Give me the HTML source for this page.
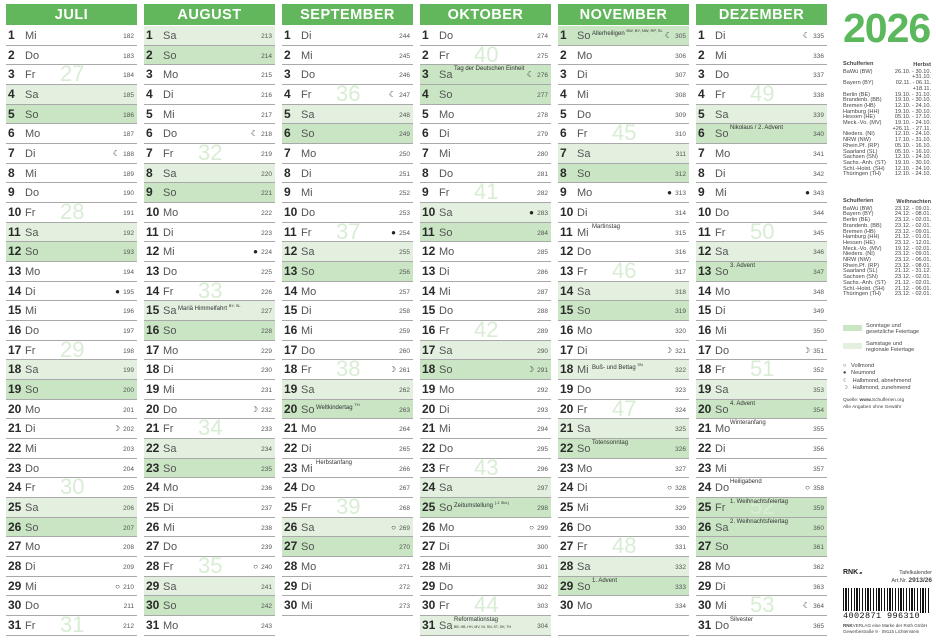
<!DOCTYPE html>
<html><head><meta charset="utf-8"><style>
*{box-sizing:border-box}
body{margin:0;width:936px;height:640px;background:#fff;position:relative;overflow:hidden;font-family:"Liberation Sans",sans-serif;color:#333}
.col{position:absolute;top:4px;width:131px}
.h{height:21px;background:#62b65c;color:#fff;font-weight:bold;font-size:14.5px;text-align:center;line-height:22px;letter-spacing:.5px;margin-bottom:1px}
p{margin:0;height:19.68px;border-bottom:1px solid #a9a9a9;position:relative;font-size:11px;line-height:19px;padding-left:2px;color:#555}
p b{font-size:12px;color:#2a2a2a;display:inline-block;width:17px}
p.a{background:#e3f0df}
p.c{background:#c9e5c3}
u{position:absolute;right:3px;top:7px;font-size:6.5px;color:#555;text-decoration:none;line-height:8px}
em{position:absolute;right:17px;top:5px;font-size:8px;font-style:normal;color:#222;line-height:9px}
s{position:absolute;left:34px;top:1px;font-size:6px;text-decoration:none;color:#333;line-height:7px}
i{position:absolute;left:54px;top:-2px;font-size:22px;font-style:normal;color:#d9edd5;line-height:22px}
.r{position:absolute;font-size:5.6px;line-height:5.7px;color:#444}
.r td{padding:0;white-space:nowrap}
</style></head><body>

<div class="col" style="left:6px"><div class="h">JULI</div>
<p><b>1</b>Mi<u>182</u></p>
<p><b>2</b>Do<u>183</u></p>
<p><b>3</b>Fr<i>27</i><u>184</u></p>
<p class="a"><b>4</b>Sa<u>185</u></p>
<p class="c"><b>5</b>So<u>186</u></p>
<p><b>6</b>Mo<u>187</u></p>
<p><b>7</b>Di<em>☾</em><u>188</u></p>
<p><b>8</b>Mi<u>189</u></p>
<p><b>9</b>Do<u>190</u></p>
<p><b>10</b>Fr<i>28</i><u>191</u></p>
<p class="a"><b>11</b>Sa<u>192</u></p>
<p class="c"><b>12</b>So<u>193</u></p>
<p><b>13</b>Mo<u>194</u></p>
<p><b>14</b>Di<em>●</em><u>195</u></p>
<p><b>15</b>Mi<u>196</u></p>
<p><b>16</b>Do<u>197</u></p>
<p><b>17</b>Fr<i>29</i><u>198</u></p>
<p class="a"><b>18</b>Sa<u>199</u></p>
<p class="c"><b>19</b>So<u>200</u></p>
<p><b>20</b>Mo<u>201</u></p>
<p><b>21</b>Di<em>☽</em><u>202</u></p>
<p><b>22</b>Mi<u>203</u></p>
<p><b>23</b>Do<u>204</u></p>
<p><b>24</b>Fr<i>30</i><u>205</u></p>
<p class="a"><b>25</b>Sa<u>206</u></p>
<p class="c"><b>26</b>So<u>207</u></p>
<p><b>27</b>Mo<u>208</u></p>
<p><b>28</b>Di<u>209</u></p>
<p><b>29</b>Mi<em>○</em><u>210</u></p>
<p><b>30</b>Do<u>211</u></p>
<p><b>31</b>Fr<i>31</i><u>212</u></p>
</div>

<div class="col" style="left:144px"><div class="h">AUGUST</div>
<p class="a"><b>1</b>Sa<u>213</u></p>
<p class="c"><b>2</b>So<u>214</u></p>
<p><b>3</b>Mo<u>215</u></p>
<p><b>4</b>Di<u>216</u></p>
<p><b>5</b>Mi<u>217</u></p>
<p><b>6</b>Do<em>☾</em><u>218</u></p>
<p><b>7</b>Fr<i>32</i><u>219</u></p>
<p class="a"><b>8</b>Sa<u>220</u></p>
<p class="c"><b>9</b>So<u>221</u></p>
<p><b>10</b>Mo<u>222</u></p>
<p><b>11</b>Di<u>223</u></p>
<p><b>12</b>Mi<em>●</em><u>224</u></p>
<p><b>13</b>Do<u>225</u></p>
<p><b>14</b>Fr<i>33</i><u>226</u></p>
<p class="a"><b>15</b>Sa<s>Mariä Himmelfahrt <sup style="font-size:4px">BY, SL</sup></s><u>227</u></p>
<p class="c"><b>16</b>So<u>228</u></p>
<p><b>17</b>Mo<u>229</u></p>
<p><b>18</b>Di<u>230</u></p>
<p><b>19</b>Mi<u>231</u></p>
<p><b>20</b>Do<em>☽</em><u>232</u></p>
<p><b>21</b>Fr<i>34</i><u>233</u></p>
<p class="a"><b>22</b>Sa<u>234</u></p>
<p class="c"><b>23</b>So<u>235</u></p>
<p><b>24</b>Mo<u>236</u></p>
<p><b>25</b>Di<u>237</u></p>
<p><b>26</b>Mi<u>238</u></p>
<p><b>27</b>Do<u>239</u></p>
<p><b>28</b>Fr<i>35</i><em>○</em><u>240</u></p>
<p class="a"><b>29</b>Sa<u>241</u></p>
<p class="c"><b>30</b>So<u>242</u></p>
<p><b>31</b>Mo<u>243</u></p>
</div>

<div class="col" style="left:282px"><div class="h">SEPTEMBER</div>
<p><b>1</b>Di<u>244</u></p>
<p><b>2</b>Mi<u>245</u></p>
<p><b>3</b>Do<u>246</u></p>
<p><b>4</b>Fr<i>36</i><em>☾</em><u>247</u></p>
<p class="a"><b>5</b>Sa<u>248</u></p>
<p class="c"><b>6</b>So<u>249</u></p>
<p><b>7</b>Mo<u>250</u></p>
<p><b>8</b>Di<u>251</u></p>
<p><b>9</b>Mi<u>252</u></p>
<p><b>10</b>Do<u>253</u></p>
<p><b>11</b>Fr<i>37</i><em>●</em><u>254</u></p>
<p class="a"><b>12</b>Sa<u>255</u></p>
<p class="c"><b>13</b>So<u>256</u></p>
<p><b>14</b>Mo<u>257</u></p>
<p><b>15</b>Di<u>258</u></p>
<p><b>16</b>Mi<u>259</u></p>
<p><b>17</b>Do<u>260</u></p>
<p><b>18</b>Fr<i>38</i><em>☽</em><u>261</u></p>
<p class="a"><b>19</b>Sa<u>262</u></p>
<p class="c"><b>20</b>So<s>Weltkindertag <sup style="font-size:4px">TH</sup></s><u>263</u></p>
<p><b>21</b>Mo<u>264</u></p>
<p><b>22</b>Di<u>265</u></p>
<p><b>23</b>Mi<s>Herbstanfang</s><u>266</u></p>
<p><b>24</b>Do<u>267</u></p>
<p><b>25</b>Fr<i>39</i><u>268</u></p>
<p class="a"><b>26</b>Sa<em>○</em><u>269</u></p>
<p class="c"><b>27</b>So<u>270</u></p>
<p><b>28</b>Mo<u>271</u></p>
<p><b>29</b>Di<u>272</u></p>
<p><b>30</b>Mi<u>273</u></p>
</div>

<div class="col" style="left:420px"><div class="h">OKTOBER</div>
<p><b>1</b>Do<u>274</u></p>
<p><b>2</b>Fr<i>40</i><u>275</u></p>
<p class="c"><b>3</b>Sa<s>Tag der Deutschen Einheit</s><em>☾</em><u>276</u></p>
<p class="c"><b>4</b>So<u>277</u></p>
<p><b>5</b>Mo<u>278</u></p>
<p><b>6</b>Di<u>279</u></p>
<p><b>7</b>Mi<u>280</u></p>
<p><b>8</b>Do<u>281</u></p>
<p><b>9</b>Fr<i>41</i><u>282</u></p>
<p class="a"><b>10</b>Sa<em>●</em><u>283</u></p>
<p class="c"><b>11</b>So<u>284</u></p>
<p><b>12</b>Mo<u>285</u></p>
<p><b>13</b>Di<u>286</u></p>
<p><b>14</b>Mi<u>287</u></p>
<p><b>15</b>Do<u>288</u></p>
<p><b>16</b>Fr<i>42</i><u>289</u></p>
<p class="a"><b>17</b>Sa<u>290</u></p>
<p class="c"><b>18</b>So<em>☽</em><u>291</u></p>
<p><b>19</b>Mo<u>292</u></p>
<p><b>20</b>Di<u>293</u></p>
<p><b>21</b>Mi<u>294</u></p>
<p><b>22</b>Do<u>295</u></p>
<p><b>23</b>Fr<i>43</i><u>296</u></p>
<p class="a"><b>24</b>Sa<u>297</u></p>
<p class="c"><b>25</b>So<s>Zeitumstellung <sup style="font-size:4px">(-1 Std.)</sup></s><u>298</u></p>
<p><b>26</b>Mo<em>○</em><u>299</u></p>
<p><b>27</b>Di<u>300</u></p>
<p><b>28</b>Mi<u>301</u></p>
<p><b>29</b>Do<u>302</u></p>
<p><b>30</b>Fr<i>44</i><u>303</u></p>
<p class="a"><b>31</b>Sa<s>Reformationstag<br><span style="font-size:3.5px">BB, HB, HH, MV, NI, SN, ST, SH, TH</span></s><u>304</u></p>
</div>

<div class="col" style="left:558px"><div class="h">NOVEMBER</div>
<p class="c"><b>1</b>So<s>Allerheiligen <sup style="font-size:4px">BW, BY, NW, RP, SL</sup></s><em>☾</em><u>305</u></p>
<p><b>2</b>Mo<u>306</u></p>
<p><b>3</b>Di<u>307</u></p>
<p><b>4</b>Mi<u>308</u></p>
<p><b>5</b>Do<u>309</u></p>
<p><b>6</b>Fr<i>45</i><u>310</u></p>
<p class="a"><b>7</b>Sa<u>311</u></p>
<p class="c"><b>8</b>So<u>312</u></p>
<p><b>9</b>Mo<em>●</em><u>313</u></p>
<p><b>10</b>Di<u>314</u></p>
<p><b>11</b>Mi<s>Martinstag</s><u>315</u></p>
<p><b>12</b>Do<u>316</u></p>
<p><b>13</b>Fr<i>46</i><u>317</u></p>
<p class="a"><b>14</b>Sa<u>318</u></p>
<p class="c"><b>15</b>So<u>319</u></p>
<p><b>16</b>Mo<u>320</u></p>
<p><b>17</b>Di<em>☽</em><u>321</u></p>
<p class="a"><b>18</b>Mi<s>Buß- und Bettag <sup style="font-size:4px">SN</sup></s><u>322</u></p>
<p><b>19</b>Do<u>323</u></p>
<p><b>20</b>Fr<i>47</i><u>324</u></p>
<p class="a"><b>21</b>Sa<u>325</u></p>
<p class="c"><b>22</b>So<s>Totensonntag</s><u>326</u></p>
<p><b>23</b>Mo<u>327</u></p>
<p><b>24</b>Di<em>○</em><u>328</u></p>
<p><b>25</b>Mi<u>329</u></p>
<p><b>26</b>Do<u>330</u></p>
<p><b>27</b>Fr<i>48</i><u>331</u></p>
<p class="a"><b>28</b>Sa<u>332</u></p>
<p class="c"><b>29</b>So<s>1. Advent</s><u>333</u></p>
<p><b>30</b>Mo<u>334</u></p>
<p></p>
</div>

<div class="col" style="left:696px"><div class="h">DEZEMBER</div>
<p><b>1</b>Di<em>☾</em><u>335</u></p>
<p><b>2</b>Mi<u>336</u></p>
<p><b>3</b>Do<u>337</u></p>
<p><b>4</b>Fr<i>49</i><u>338</u></p>
<p class="a"><b>5</b>Sa<u>339</u></p>
<p class="c"><b>6</b>So<s>Nikolaus / 2. Advent</s><u>340</u></p>
<p><b>7</b>Mo<u>341</u></p>
<p><b>8</b>Di<u>342</u></p>
<p><b>9</b>Mi<em>●</em><u>343</u></p>
<p><b>10</b>Do<u>344</u></p>
<p><b>11</b>Fr<i>50</i><u>345</u></p>
<p class="a"><b>12</b>Sa<u>346</u></p>
<p class="c"><b>13</b>So<s>3. Advent</s><u>347</u></p>
<p><b>14</b>Mo<u>348</u></p>
<p><b>15</b>Di<u>349</u></p>
<p><b>16</b>Mi<u>350</u></p>
<p><b>17</b>Do<em>☽</em><u>351</u></p>
<p><b>18</b>Fr<i>51</i><u>352</u></p>
<p class="a"><b>19</b>Sa<u>353</u></p>
<p class="c"><b>20</b>So<s>4. Advent</s><u>354</u></p>
<p><b>21</b>Mo<s>Winteranfang</s><u>355</u></p>
<p><b>22</b>Di<u>356</u></p>
<p><b>23</b>Mi<u>357</u></p>
<p><b>24</b>Do<s>Heiligabend</s><em>○</em><u>358</u></p>
<p class="c"><b>25</b>Fr<i>52</i><s>1. Weihnachtsfeiertag</s><u>359</u></p>
<p class="c"><b>26</b>Sa<s>2. Weihnachtsfeiertag</s><u>360</u></p>
<p class="c"><b>27</b>So<u>361</u></p>
<p><b>28</b>Mo<u>362</u></p>
<p><b>29</b>Di<u>363</u></p>
<p><b>30</b>Mi<i>53</i><em>☾</em><u>364</u></p>
<p><b>31</b>Do<s>Silvester</s><u>365</u></p>
</div>

<div style="position:absolute;left:843px;top:5px;font-size:41px;font-weight:bold;color:#5cb85c;letter-spacing:-1px;line-height:46px">2026</div>

<table class="r" style="left:843px;top:62px;width:88px;border-collapse:collapse">
<tr><td style="font-weight:bold;padding-bottom:2px">Schulferien</td><td style="text-align:right;font-weight:bold">Herbst</td></tr>
<tr><td>BaWü (BW)</td><td style="text-align:right">26.10. - 30.10.</td></tr>
<tr><td></td><td style="text-align:right">+31.10.</td></tr>
<tr><td>Bayern (BY)</td><td style="text-align:right">02.11. - 06.11.</td></tr>
<tr><td></td><td style="text-align:right">+18.11.</td></tr>
<tr><td>Berlin (BE)</td><td style="text-align:right">19.10. - 31.10.</td></tr>
<tr><td>Brandenb. (BB)</td><td style="text-align:right">19.10. - 30.10.</td></tr>
<tr><td>Bremen (HB)</td><td style="text-align:right">12.10. - 24.10.</td></tr>
<tr><td>Hamburg (HH)</td><td style="text-align:right">19.10. - 30.10.</td></tr>
<tr><td>Hessen (HE)</td><td style="text-align:right">05.10. - 17.10.</td></tr>
<tr><td>Meck.-Vo. (MV)</td><td style="text-align:right">19.10. - 24.10.</td></tr>
<tr><td></td><td style="text-align:right">+26.11. - 27.11.</td></tr>
<tr><td>Nieders. (NI)</td><td style="text-align:right">12.10. - 24.10.</td></tr>
<tr><td>NRW (NW)</td><td style="text-align:right">17.10. - 31.10.</td></tr>
<tr><td>Rhein.Pf. (RP)</td><td style="text-align:right">05.10. - 16.10.</td></tr>
<tr><td>Saarland (SL)</td><td style="text-align:right">05.10. - 16.10.</td></tr>
<tr><td>Sachsen (SN)</td><td style="text-align:right">12.10. - 24.10.</td></tr>
<tr><td>Sachs.-Anh. (ST)</td><td style="text-align:right">19.10. - 30.10.</td></tr>
<tr><td>Schl.-Holst. (SH)</td><td style="text-align:right">12.10. - 24.10.</td></tr>
<tr><td>Thüringen (TH)</td><td style="text-align:right">12.10. - 24.10.</td></tr>
</table>

<table class="r" style="left:843px;top:199px;width:88px;border-collapse:collapse">
<tr><td style="font-weight:bold;padding-bottom:2px">Schulferien</td><td style="text-align:right;font-weight:bold">Weihnachten</td></tr>
<tr><td>BaWü (BW)</td><td style="text-align:right">23.12. - 09.01.</td></tr>
<tr><td>Bayern (BY)</td><td style="text-align:right">24.12. - 08.01.</td></tr>
<tr><td>Berlin (BE)</td><td style="text-align:right">23.12. - 02.01.</td></tr>
<tr><td>Brandenb. (BB)</td><td style="text-align:right">23.12. - 02.01.</td></tr>
<tr><td>Bremen (HB)</td><td style="text-align:right">23.12. - 09.01.</td></tr>
<tr><td>Hamburg (HH)</td><td style="text-align:right">21.12. - 01.01.</td></tr>
<tr><td>Hessen (HE)</td><td style="text-align:right">23.12. - 12.01.</td></tr>
<tr><td>Meck.-Vo. (MV)</td><td style="text-align:right">19.12. - 02.01.</td></tr>
<tr><td>Nieders. (NI)</td><td style="text-align:right">23.12. - 09.01.</td></tr>
<tr><td>NRW (NW)</td><td style="text-align:right">23.12. - 06.01.</td></tr>
<tr><td>Rhein.Pf. (RP)</td><td style="text-align:right">23.12. - 08.01.</td></tr>
<tr><td>Saarland (SL)</td><td style="text-align:right">21.12. - 31.12.</td></tr>
<tr><td>Sachsen (SN)</td><td style="text-align:right">23.12. - 02.01.</td></tr>
<tr><td>Sachs.-Anh. (ST)</td><td style="text-align:right">21.12. - 02.01.</td></tr>
<tr><td>Schl.-Holst. (SH)</td><td style="text-align:right">21.12. - 06.01.</td></tr>
<tr><td>Thüringen (TH)</td><td style="text-align:right">23.12. - 02.01.</td></tr>
</table>

<div style="position:absolute;left:843px;top:325px;width:19px;height:6px;background:#c9e5c3"></div>
<div class="r" style="left:866px;top:324px">Sonntage und<br>gesetzliche Feiertage</div>
<div style="position:absolute;left:843px;top:343px;width:19px;height:6px;background:#e3f0df"></div>
<div class="r" style="left:866px;top:342px">Samstage und<br>regionale Feiertage</div>
<div class="r" style="left:843px;top:363px;line-height:7.3px">○ &nbsp;&nbsp;Vollmond<br>● &nbsp;&nbsp;Neumond<br>☾ &nbsp;&nbsp;Halbmond, abnehmend<br>☽ &nbsp;&nbsp;Halbmond, zunehmend</div>
<div class="r" style="left:843px;top:397px;font-size:4.8px;line-height:7px">Quelle: <b>www.</b>Schulferien.org<br>Alle Angaben ohne Gewähr</div>

<div style="position:absolute;left:843px;top:569px;font-size:7px;font-weight:bold;color:#222">RNK<span style="font-size:4px;font-weight:normal"> ▰</span></div>
<div class="r" style="left:880px;top:570px;width:52px;text-align:right;font-size:5.5px;line-height:7px">Tafelkalender<br>Art.Nr. <b style="font-size:6.5px">2913/26</b></div>
<div style="position:absolute;left:843px;top:588px;width:88px;height:25px;background:repeating-linear-gradient(90deg,#111 0 1px,#fff 1px 2px,#111 2px 4px,#fff 4px 5px,#111 5px 6px,#fff 6px 8px,#111 8px 9px,#fff 9px 11px)"></div>
<div style="position:absolute;left:843px;top:611px;font-size:8.5px;letter-spacing:0.4px;color:#111;line-height:10px;background:#fff;font-family:'Liberation Mono',monospace">4002871 996310</div>
<div class="r" style="left:843px;top:623px;font-size:4.5px;line-height:6px"><b>RNK</b>VERLAG eine Marke der Roth GmbH<br>Gewerbestraße 9 · 09115 Lichtenstein</div>
</body></html>
